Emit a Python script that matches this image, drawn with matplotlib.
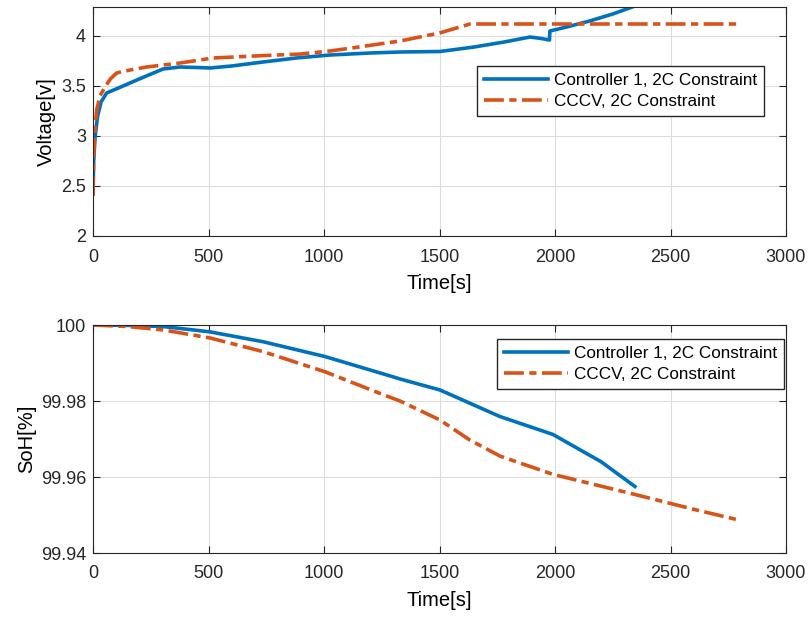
import matplotlib
matplotlib.use("Agg")
import matplotlib.pyplot as plt
import numpy as np

plt.rcParams['font.family'] = ['Liberation Sans', 'DejaVu Sans']

# charging voltage, controller 1
t_v1 = [0, 3, 9, 20, 35, 59, 120, 200, 303, 377, 450, 506, 600, 736, 880, 1026,
        1200, 1329, 1502, 1650, 1780, 1892, 1940, 1976, 1978, 2050, 2150, 2250, 2346]
v1 = [2.43, 2.75, 2.99, 3.20, 3.34, 3.43, 3.49, 3.57, 3.67, 3.69, 3.685, 3.68, 3.70, 3.74, 3.78, 3.81,
      3.83, 3.84, 3.845, 3.89, 3.94, 3.99, 3.975, 3.96, 4.05, 4.09, 4.15, 4.22, 4.30]

# charging voltage, CCCV
t_v2 = [0, 3, 8, 16, 30, 52, 75, 102, 160, 232, 377, 520, 700, 900, 1026, 1150,
        1329, 1500, 1632, 1700, 2000, 2400, 2792]
v2 = [2.40, 2.80, 3.05, 3.26, 3.40, 3.49, 3.57, 3.63, 3.66, 3.69, 3.73, 3.78, 3.80, 3.82, 3.85, 3.89,
      3.95, 4.03, 4.12, 4.12, 4.12, 4.12, 4.12]

# state of health
t_s1 = [0, 150, 303, 506, 736, 1004, 1242, 1329, 1502, 1762, 1991, 2200, 2346]
s1 = [100.0, 99.9999, 99.9996, 99.9982, 99.9956, 99.9917, 99.9874, 99.9858, 99.9829,
      99.9759, 99.9712, 99.9640, 99.9575]
t_s2 = [0, 150, 303, 506, 736, 1004, 1242, 1329, 1502, 1632, 1762, 1991, 2353, 2600, 2787]
s2 = [100.0, 99.9996, 99.9987, 99.9966, 99.9930, 99.9877, 99.9820, 99.9800, 99.9750,
      99.9697, 99.9655, 99.9607, 99.9553, 99.9515, 99.9488]

blue = '#0072BD'
orange = '#D95319'
lab1 = 'Controller 1, 2C Constraint'
lab2 = 'CCCV, 2C Constraint'
dashdot = (0, (5.5, 1.5, 2, 1.5))
legend_kw = dict(fontsize=12.3, handlelength=3.75, fancybox=False, edgecolor='#262626',
                 framealpha=1, borderpad=0.4, labelspacing=0.37, handletextpad=0.35,
                 borderaxespad=0)

fig = plt.figure(figsize=(8.11, 6.19), dpi=100)
W, H = 811, 619
ax1 = fig.add_axes([93 / W, 1 - 236 / H, (786 - 93) / W, (236 - 7) / H])
ax2 = fig.add_axes([93 / W, 1 - 553 / H, (786 - 93) / W, (553 - 325) / H])

ax1.plot(t_v1, v1, color=blue, lw=2.6, label=lab1)
ax1.plot(t_v2, v2, color=orange, lw=2.6, ls=dashdot, label=lab2)
ax1.set_xlim(0, 3000)
ax1.set_ylim(2, 4.29)
ax1.set_yticks([2, 2.5, 3, 3.5, 4])
ax1.set_yticklabels(['2', '2.5', '3', '3.5', '4'])
ax1.set_ylabel('Voltage[v]', fontsize=14.5, labelpad=4)
ax1.legend(loc='upper left', bbox_to_anchor=(0.554, 0.742), **legend_kw)

ax2.plot(t_s1, s1, color=blue, lw=2.6, label=lab1)
ax2.plot(t_s2, s2, color=orange, lw=2.6, ls=dashdot, label=lab2)
ax2.set_xlim(0, 3000)
ax2.set_ylim(99.94, 100)
ax2.set_yticks([99.94, 99.96, 99.98, 100])
ax2.set_yticklabels(['99.94', '99.96', '99.98', '100'])
ax2.set_ylabel('SoH[%]', fontsize=14.5, labelpad=3.5)
ax2.legend(loc='upper right', bbox_to_anchor=(0.997, 0.939), **legend_kw)

for ax in (ax1, ax2):
    ax.set_xticks([0, 500, 1000, 1500, 2000, 2500, 3000])
    ax.set_xlabel('Time[s]', fontsize=14.5, labelpad=6)
    ax.grid(True, color='#dddddd', lw=0.8)
    ax.set_axisbelow(True)
    ax.tick_params(direction='in', labelsize=13, colors='#262626', length=5,
                   top=True, right=True)
    ax.tick_params(axis='x', pad=9)
    ax.tick_params(axis='y', pad=5)
    for s in ax.spines.values():
        s.set_color('#262626')
        s.set_linewidth(0.8)

fig.savefig('out.png', dpi=100)
